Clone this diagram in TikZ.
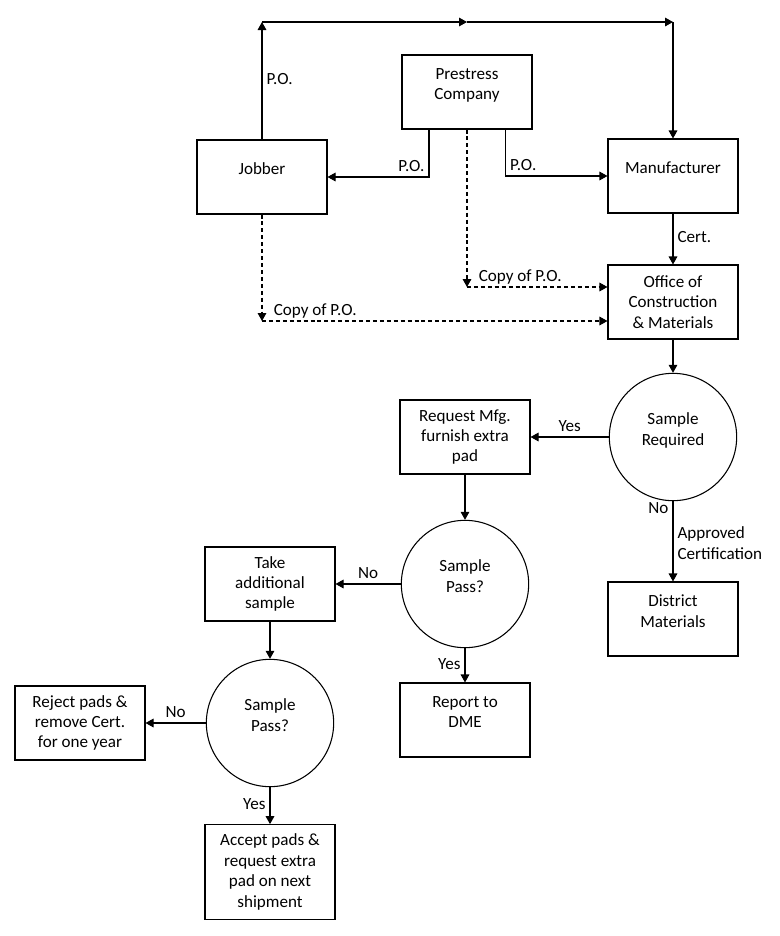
\documentclass[tikz,border=0pt]{standalone}
\usepackage{fontspec}
\setmainfont{Carlito}
\usepackage{tikz}
\usetikzlibrary{arrows.meta}

\begin{document}
\begin{tikzpicture}[x=0.75pt, y=-0.75pt,
  font=\fontsize{12.8}{15.3}\selectfont,
  line width=0.8pt, >={Triangle[length=6pt,width=6.5pt]},
  box/.style={draw, align=center, minimum width=97.5pt, minimum height=55.5pt, inner sep=2pt},
  raised/.style={text depth=12pt},
  test/.style={draw, circle, align=center, minimum size=95.5pt, inner sep=0pt, text depth=12pt},
  lbl/.style={inner xsep=3pt, inner ysep=1.5pt, text depth=2.5pt},
  copy/.style={dash pattern=on 3pt off 2.2pt}]
  \useasboundingbox (0,0) rectangle (780,936);
  % boxes and tests
  \node[box, raised] (pc) at (467,92) {Prestress\\Company};
  \node[box, raised] (job) at (262,177) {Jobber};
  \node[box, raised] (mfg) at (673,176) {Manufacturer};
  \node[box] (ocm) at (673,302) {Office of\\Construction\\\& Materials};
  \node[test] (sreq) at (673,437) {Sample\\Required};
  \node[box] (req) at (465,437) {Request Mfg.\\furnish extra\\pad};
  \node[test] (sp1) at (465,584) {Sample\\Pass?};
  \node[box, raised] (dist) at (673,619) {District\\Materials};
  \node[box] (take) at (270,584) {Take\\additional\\sample};
  \node[box, raised] (dme) at (465,720) {Report to\\DME};
  \node[test] (sp2) at (270,723) {Sample\\Pass?};
  \node[box] (rej) at (80,723) {Reject pads \&\\remove Cert.\\for one year};
  \node[box, minimum height=71pt] (acc) at (270,872) {Accept pads \&\\request extra\\pad on next\\shipment};
  % purchase orders
  \coordinate (tl) at (262,22);
  \coordinate (tm) at (pc.north |- tl);
  \coordinate (tr) at (mfg.north |- tl);
  \draw[->] (job.north) -- node[lbl, right] {P.O.} (tl);
  \draw[->] (tl) -- (tm);
  \draw[->] (tm) -- (tr);
  \draw[->] (tr) -- (mfg.north);
  \draw[->] ([xshift=-28.5pt]pc.south) |- node[lbl, pos=0.5, above left] {P.O.} (job.east);
  \draw[->] ([xshift=29pt]pc.south) |- node[lbl, pos=0.5, above right] {P.O.} (mfg.west);
  % copies
  \coordinate (cpc) at (467,287);
  \coordinate (cjob) at (262,321);
  \draw[copy, ->] (pc.south) -- (cpc);
  \draw[copy, ->] (cpc) -- node[lbl, pos=0, above right, xshift=5.5pt] {Copy of P.O.} (cpc -| ocm.west);
  \draw[copy, ->] (job.south) -- (cjob);
  \draw[copy, ->] (cjob) -- node[lbl, pos=0, above right, xshift=5.5pt] {Copy of P.O.} (cjob -| ocm.west);
  % flow
  \path[->]
  (mfg) edge node[lbl, right] {Cert.} (ocm)
  (ocm) edge (sreq)
  (sreq) edge node[lbl, above] {Yes} (req)
  (sreq) edge node[lbl, pos=0.1, left] {No} node[lbl, pos=0.54, right, align=left] {Approved\\Certification} (dist)
  (req) edge (sp1)
  (sp1) edge node[lbl, above] {No} (take)
  (sp1) edge node[lbl, left] {Yes} (dme)
  (take) edge (sp2)
  (sp2) edge node[lbl, above] {No} (rej)
  (sp2) edge node[lbl, left] {Yes} (acc)
  ;
\end{tikzpicture}
\end{document}
